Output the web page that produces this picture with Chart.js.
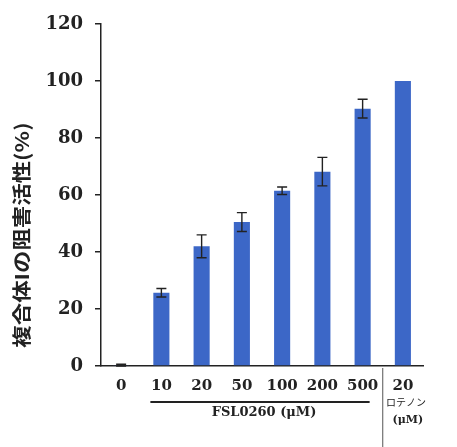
<!DOCTYPE html>
<html>
<head>
<meta charset="utf-8">
<script src="https://cdn.jsdelivr.net/npm/chart.js@4"></script>
<style>
  html, body { margin: 0; padding: 0; background: #fff; }
  #wrap { width: 457px; height: 447px; position: relative; }
</style>
</head>
<body>
<div id="wrap"><canvas id="c"></canvas></div>
<script>
// ---- データ ----
const categories = ['0', '10', '20', '50', '100', '200', '500', '20'];
const inhibition = [0.3, 25.7, 42, 50.5, 61.5, 68.2, 90.3, 100];
const errors = [0.3, 1.5, 4, 3.3, 1.3, 5, 3.3, 0];
const yTicks = [0, 20, 40, 60, 80, 100, 120];

const yTitle = '複合体Iの阻害活性(%)';
const groupLabel = 'FSL0260 (μM)';
const refLabel = ['ロテノン', '(μM)'];

const BAR_BLUE = '#3c67c7';
const INK = '#222';

// ---- エラーバー ----
const errorBarPlugin = {
  id: 'errorBars',
  afterDatasetsDraw(chart) {
    const { ctx } = chart;
    const x = chart.scales.x, y = chart.scales.y;
    ctx.save();
    ctx.strokeStyle = INK;
    ctx.lineWidth = 1.4;
    inhibition.forEach((v, i) => {
      const e = errors[i];
      if (!e) return;
      const px = x.getPixelForValue(i);
      const top = y.getPixelForValue(v + e);
      const bot = y.getPixelForValue(v - e);
      ctx.beginPath();
      ctx.moveTo(px, top); ctx.lineTo(px, bot);
      ctx.moveTo(px - 5, top); ctx.lineTo(px + 5, top);
      ctx.moveTo(px - 5, bot); ctx.lineTo(px + 5, bot);
      ctx.stroke();
    });
    ctx.restore();
  },
};

// ---- 軸タイトル・グループ注記 ----
const annotationPlugin = {
  id: 'annotations',
  afterDraw(chart) {
    const { ctx } = chart;
    const x = chart.scales.x;
    const area = chart.chartArea;
    ctx.save();

    // 縦軸タイトル
    ctx.translate(22, 235);
    ctx.rotate(-Math.PI / 2);
    ctx.scale(1.18, 1);
    ctx.fillStyle = INK;
    ctx.font = 'bold 19px "Noto Sans CJK JP"';
    ctx.textAlign = 'center';
    ctx.textBaseline = 'middle';
    ctx.fillText(yTitle, 0, 0);
    ctx.setTransform(1, 0, 0, 1, 0, 0);

    // FSL0260 の下線
    const x10 = x.getPixelForValue(1);
    const x500 = x.getPixelForValue(6);
    const lineY = area.bottom + 36;
    ctx.strokeStyle = INK;
    ctx.lineWidth = 2;
    ctx.beginPath();
    ctx.moveTo(x10 - 11, lineY);
    ctx.lineTo(x500 + 7, lineY);
    ctx.stroke();

    ctx.fillStyle = INK;
    ctx.font = 'bold 13px "DejaVu Serif"';
    ctx.textAlign = 'center';
    ctx.textBaseline = 'middle';
    ctx.fillText(groupLabel, (x10 + x500) / 2 + 2, area.bottom + 47);

    // 区切り線
    const sep = (x500 + x.getPixelForValue(7)) / 2;
    ctx.strokeStyle = '#555';
    ctx.lineWidth = 1;
    ctx.beginPath();
    ctx.moveTo(sep, area.bottom + 2);
    ctx.lineTo(sep, chart.height);
    ctx.stroke();

    // ロテノン
    const xr = x.getPixelForValue(7);
    ctx.font = '10px "Noto Sans CJK JP"';
    ctx.fillText(refLabel[0], xr + 3, area.bottom + 36);
    ctx.font = 'bold 11px "DejaVu Serif"';
    ctx.fillText(refLabel[1], xr + 5, area.bottom + 54);

    ctx.restore();
  },
};

new Chart(document.getElementById('c'), {
  type: 'bar',
  data: {
    labels: categories,
    datasets: [{
      data: inhibition,
      backgroundColor: BAR_BLUE,
      borderWidth: 0,
      barPercentage: 0.4,
      categoryPercentage: 1,
    }],
  },
  options: {
    responsive: true,
    maintainAspectRatio: false,
    animation: false,
    layout: { padding: { top: 24, right: 34, left: 0, bottom: 0 } },
    plugins: {
      legend: { display: false },
      tooltip: { enabled: false },
    },
    scales: {
      x: {
        grid: { display: false },
        border: { display: true, color: INK, width: 1.5 },
        ticks: {
          color: INK,
          padding: 3,
          maxRotation: 0,
          autoSkip: false,
          font: { family: 'DejaVu Serif', weight: 'bold', size: 15 },
        },
        afterFit: (s) => { s.height = 81; },
      },
      y: {
        min: 0,
        max: 120,
        afterBuildTicks: (s) => { s.ticks = yTicks.map((v) => ({ value: v })); },
        grid: { drawOnChartArea: false, drawTicks: true, tickLength: 6, color: INK, lineWidth: 1.5 },
        border: { display: true, color: INK, width: 1.5 },
        ticks: {
          color: INK,
          padding: 12,
          font: { family: 'DejaVu Serif', weight: 'bold', size: 18 },
        },
        afterFit: (s) => { s.width = 101; },
      },
    },
  },
  plugins: [errorBarPlugin, annotationPlugin],
});
</script>
</body>
</html>
